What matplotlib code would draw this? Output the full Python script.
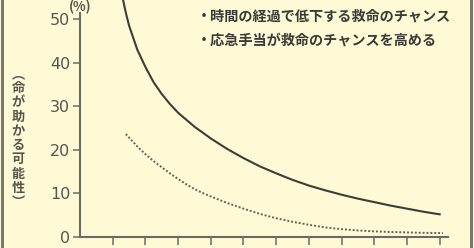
import matplotlib.pyplot as plt
from matplotlib.lines import Line2D

plt.rcParams['font.family'] = ['Noto Sans CJK JP', 'DejaVu Sans']

# 時間の経過で低下する救命のチャンス
t_solid = [1.3, 1.4, 1.5, 1.75, 2.0, 2.25, 2.5, 2.75, 3.0, 3.5, 4.0, 4.5, 5.0,
           5.5, 6.0, 6.5, 7.0, 7.5, 8.0, 8.5, 9.0, 9.5, 10.0, 10.5, 11.0]
v_solid = [55, 51.5, 48.5, 43, 39, 35.5, 32.8, 30.5, 28.5, 25.3, 22.6, 20.2, 18.1,
           16.2, 14.6, 13.1, 11.8, 10.7, 9.7, 8.8, 8.0, 7.2, 6.5, 5.8, 5.2]

# 応急手当が救命のチャンスを高める
t_dot = [1.4, 1.6, 1.8, 2.0, 2.25, 2.5, 2.75, 3.0, 3.25, 3.5, 3.75, 4.0, 4.5,
         5.0, 5.5, 6.0, 6.5, 7.0, 7.5, 8.0, 8.5, 9.0, 9.5, 10.0, 10.5, 11.1]
v_dot = [23.6, 22.0, 20.4, 19.0, 17.4, 16.0, 14.6, 13.3, 12.1, 11.0, 10.1, 9.3, 7.8,
         6.5, 5.3, 4.3, 3.5, 2.8, 2.2, 1.8, 1.5, 1.3, 1.15, 1.05, 0.95, 0.9]

y_ticks = [0, 10, 20, 30, 40, 50]
x_ticks = list(range(1, 12))

bg = '#fffad6'
axis_col = '#6b6b66'

fig = plt.figure(figsize=(4.74, 2.48), dpi=100)
fig.patch.set_facecolor(bg)
ax = fig.add_axes([80 / 474, 11 / 248, 11.7 * 32.7 / 474, 237 / 248])
ax.set_facecolor(bg)

ax.plot(t_solid, v_solid, color='#3c3c3a', lw=1.5, solid_joinstyle='round')
ax.plot(t_dot, v_dot, color='#626256', lw=1.4, linestyle=(0, (1, 1)))

ax.set_xlim(0, 11.7)
ax.set_ylim(0, 237 / 4.36)
for s in ['top', 'right']:
    ax.spines[s].set_visible(False)
for s in ['left', 'bottom']:
    ax.spines[s].set_color(axis_col)
    ax.spines[s].set_linewidth(1.5)
ax.spines['left'].set_bounds(0, 51.4)
ax.spines['bottom'].set_bounds(0, 11.25)

ax.set_yticks(y_ticks)
ax.set_yticklabels([str(v) for v in y_ticks], fontsize=11.5, color='#555550',
                   family='DejaVu Sans')
ax.set_xticks(x_ticks)
ax.set_xticklabels([])
ax.tick_params(axis='y', length=5, width=1.1, color=axis_col, pad=2)
ax.tick_params(axis='x', length=6, width=1.1, color=axis_col)

fig.text(80 / 474, 1.0, '(%)', ha='center', va='top',
         fontsize=9.5, color='#555550', fontweight='bold')

fig.text(18 / 474, 1 - 138 / 248,
         '︵\n命\nが\n助\nか\nる\n可\n能\n性\n︶',
         ha='center', va='center', fontsize=9.5, color='#555550',
         linespacing=1.02, fontweight='bold')

fig.text(197 / 474, 1 - 17 / 248, '・時間の経過で低下する救命のチャンス',
         ha='left', va='center', fontsize=10.2, color='#3a3a38',
         fontweight='bold')
fig.text(197 / 474, 1 - 41 / 248, '・応急手当が救命のチャンスを高める',
         ha='left', va='center', fontsize=10.2, color='#3a3a38',
         fontweight='bold')

# frame lines at the sides
fig.add_artist(Line2D([2 / 474, 2 / 474], [0, 1], color='#7a7a74', lw=2.2,
                      transform=fig.transFigure))
fig.add_artist(Line2D([471 / 474, 471 / 474], [0, 1], color='#7a7a74', lw=2.2,
                      transform=fig.transFigure))

fig.savefig('out.png', dpi=100, facecolor=bg)
